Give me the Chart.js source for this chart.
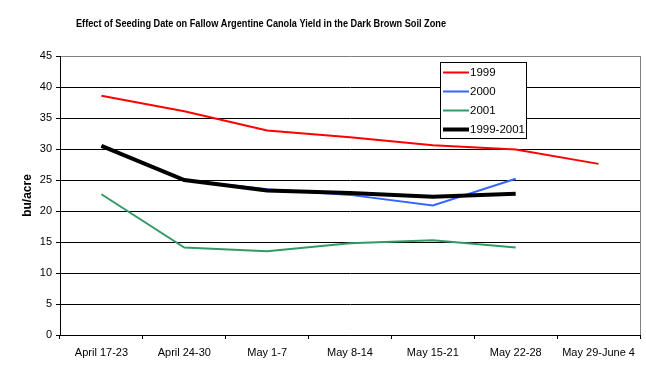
<!DOCTYPE html>
<html>
<head>
<meta charset="utf-8">
<script src="https://cdn.jsdelivr.net/npm/chart.js@4"></script>
<style>
  html, body { margin: 0; padding: 0; background: #fff; }
  #wrap { width: 646px; height: 392px; position: relative; }
</style>
</head>
<body>
<div id="wrap"><canvas id="yield-chart" width="646" height="392"></canvas></div>
<script>
// Chart data
const chartTitle = 'Effect of Seeding Date on Fallow Argentine Canola Yield in the Dark Brown Soil Zone';
const seedingWeeks = ['April 17-23', 'April 24-30', 'May 1-7', 'May 8-14', 'May 15-21', 'May 22-28', 'May 29-June 4'];
const yield1999 = [38.6, 36.1, 33.0, 31.9, 30.6, 29.9, 27.6];
const yield2000 = [30.5, 25.0, 23.5, 22.6, 20.9, 25.2, null];
const yield2001 = [22.7, 14.1, 13.5, 14.8, 15.3, 14.1, null];
const yieldAvg = [30.5, 25.0, 23.3, 22.9, 22.3, 22.8, null];
const yTicks = [0, 5, 10, 15, 20, 25, 30, 35, 40, 45];

const font = 'Liberation Sans, Arial, sans-serif';

// Title, frame and legend drawn on the canvas
const extras = {
  id: 'extras',
  afterDraw(chart) {
    const ctx = chart.ctx;
    const area = chart.chartArea;
    ctx.save();

    // right border
    ctx.strokeStyle = '#808080';
    ctx.lineWidth = 1;
    ctx.beginPath();
    ctx.moveTo(Math.round(area.right) + 0.5, area.top);
    ctx.lineTo(Math.round(area.right) + 0.5, area.bottom);
    ctx.stroke();

    // title (squeezed a bit to the width of the original narrow font)
    ctx.save();
    ctx.fillStyle = '#000';
    ctx.font = 'bold 11px ' + font;
    ctx.textAlign = 'center';
    ctx.textBaseline = 'middle';
    const sx = 370 / ctx.measureText(chartTitle).width;
    ctx.translate(261, 24);
    ctx.scale(sx, 1);
    ctx.fillText(chartTitle, 0, 0);
    ctx.restore();

    // legend
    const lx = 440.5, ly = 62.5, lw = 86, lh = 76;
    ctx.fillStyle = '#fff';
    ctx.fillRect(lx, ly, lw, lh);
    ctx.strokeStyle = '#000';
    ctx.lineWidth = 1;
    ctx.strokeRect(lx, ly, lw, lh);
    ctx.font = '11.5px ' + font;
    ctx.textAlign = 'left';
    ctx.textBaseline = 'middle';
    chart.data.datasets.forEach((ds, i) => {
      const y = 72.5 + i * 19;
      ctx.strokeStyle = ds.borderColor;
      ctx.lineWidth = ds.borderWidth;
      ctx.beginPath();
      ctx.moveTo(443, y);
      ctx.lineTo(469, y);
      ctx.stroke();
      ctx.fillStyle = '#000';
      ctx.fillText(ds.label, 470, y + 0.5);
    });
    ctx.restore();
  }
};

new Chart('yield-chart', {
  type: 'line',
  data: {
    labels: seedingWeeks,
    datasets: [
      { label: '1999', data: yield1999, borderColor: '#ff0000', borderWidth: 2, order: 3 },
      { label: '2000', data: yield2000, borderColor: '#3366ff', borderWidth: 2, order: 2 },
      { label: '2001', data: yield2001, borderColor: '#339966', borderWidth: 2, order: 1 },
      { label: '1999-2001', data: yieldAvg, borderColor: '#000000', borderWidth: 4, order: 0 }
    ]
  },
  options: {
    responsive: false,
    animation: false,
    devicePixelRatio: 1,
    layout: { padding: { top: 56, right: 6, left: 0, bottom: 0 } },
    elements: {
      line: { tension: 0, fill: false, borderCapStyle: 'butt' },
      point: { radius: 0 }
    },
    plugins: {
      legend: { display: false },
      title: { display: false },
      tooltip: { enabled: false }
    },
    scales: {
      x: {
        offset: true,
        grid: { offset: true, drawOnChartArea: false, color: '#000', tickLength: 4 },
        border: { color: '#000' },
        ticks: { color: '#000', font: { family: font, size: 11 }, padding: 7, maxRotation: 0, autoSkip: false },
        afterFit: s => { s.height = 57; }
      },
      y: {
        min: 0,
        max: 45,
        afterBuildTicks: s => { s.ticks = yTicks.map(v => ({ value: v })); },
        grid: {
          color: c => (c.tick && c.tick.value === 45 ? '#808080' : '#000'),
          tickColor: '#000',
          tickLength: 4
        },
        border: { color: '#000' },
        ticks: { color: '#000', font: { family: font, size: 11 }, padding: 4 },
        title: {
          display: true,
          text: 'bu/acre',
          color: '#000',
          font: { family: font, size: 12, weight: 'bold' },
          padding: { top: 20, bottom: 0 }
        },
        afterFit: s => { s.width = 60; }
      }
    }
  },
  plugins: [extras]
});
</script>
</body>
</html>
